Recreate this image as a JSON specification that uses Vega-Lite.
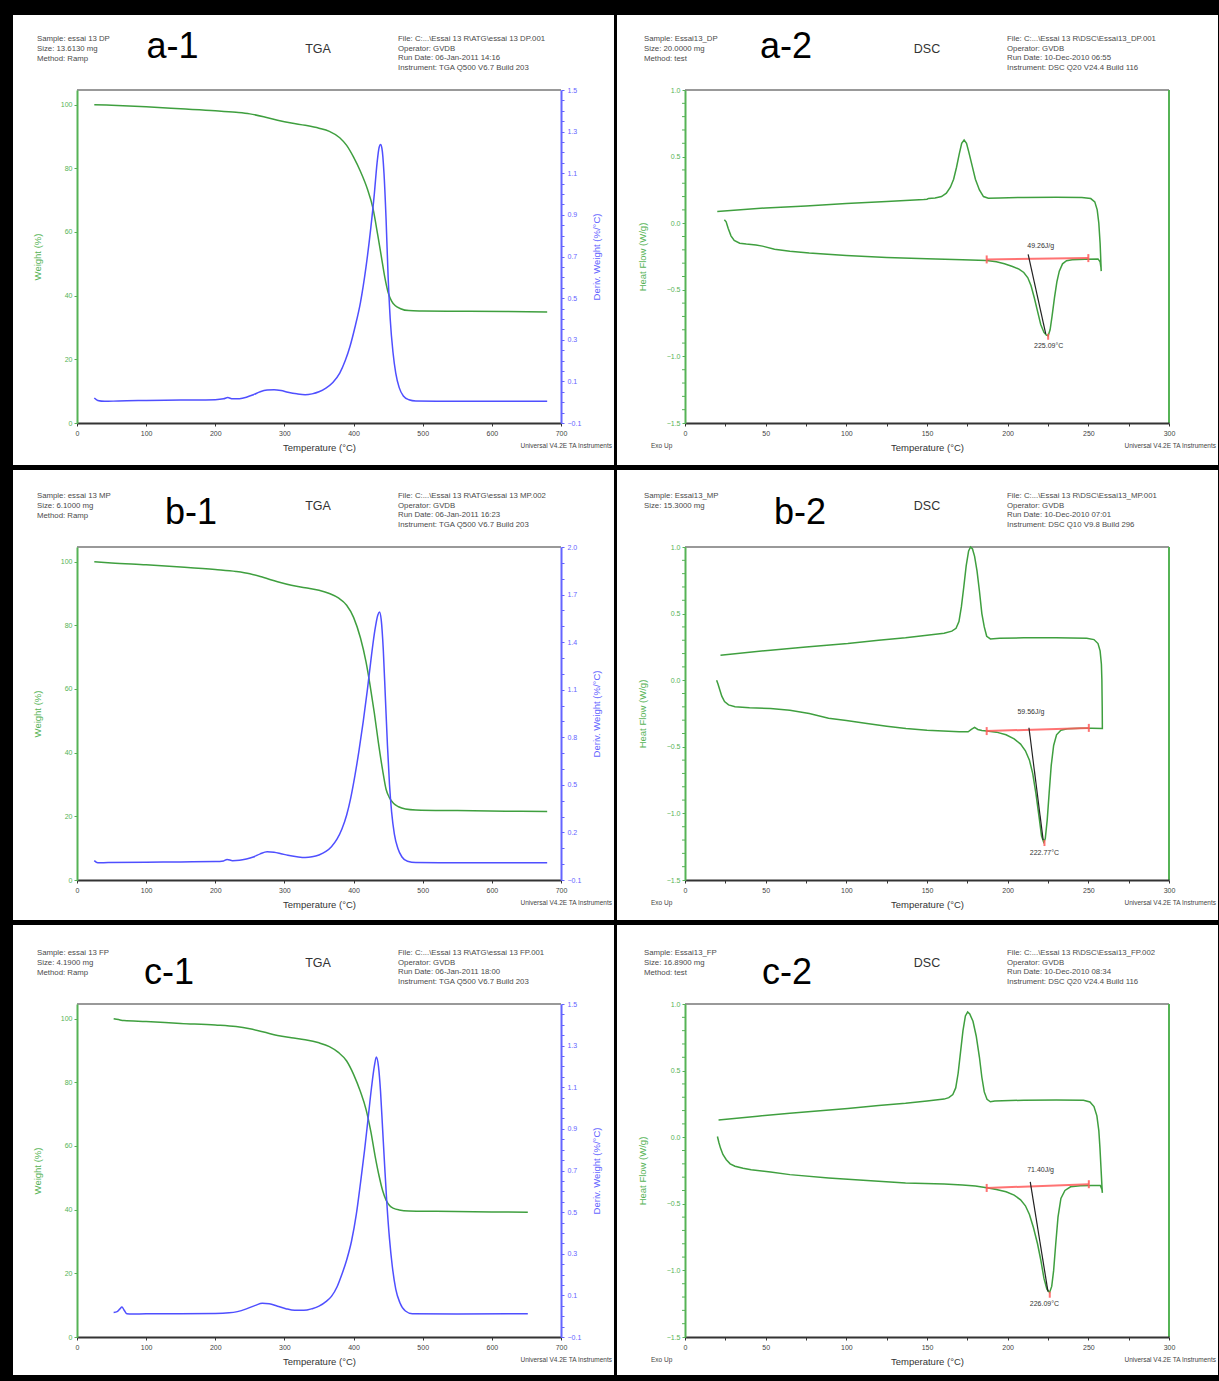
{
  "$schema": "https://vega.github.io/schema/vega-lite/v6.json",
  "background": "black",
  "padding": {"left": 13, "top": 14, "right": 2, "bottom": 9},
  "columns": 2,
  "spacing": {"row": 4, "column": 2},
  "datasets": {
    "wa": [{"t":25,"w":100},{"t":50,"w":99.8},{"t":100,"w":99.3},{"t":150,"w":98.7},{"t":200,"w":98.1},{"t":230,"w":97.6},{"t":250,"w":97.1},{"t":270,"w":96.2},{"t":290,"w":95.1},{"t":310,"w":94.2},{"t":330,"w":93.5},{"t":350,"w":92.6},{"t":365,"w":91.6},{"t":380,"w":89.6},{"t":390,"w":87.2},{"t":400,"w":83.5},{"t":410,"w":79},{"t":420,"w":73.5},{"t":428,"w":67.5},{"t":435,"w":59},{"t":440,"w":52.5},{"t":445,"w":46},{"t":450,"w":41},{"t":455,"w":38.3},{"t":460,"w":36.9},{"t":468,"w":35.9},{"t":480,"w":35.3},{"t":500,"w":35.2},{"t":550,"w":35.1},{"t":620,"w":35},{"t":680,"w":34.9}],
    "da": [{"t":25,"d":0.02},{"t":30,"d":0.008},{"t":40,"d":0.004},{"t":60,"d":0.006},{"t":100,"d":0.008},{"t":150,"d":0.01},{"t":200,"d":0.012},{"t":212,"d":0.016},{"t":218,"d":0.022},{"t":225,"d":0.016},{"t":235,"d":0.017},{"t":245,"d":0.024},{"t":255,"d":0.036},{"t":265,"d":0.05},{"t":275,"d":0.058},{"t":285,"d":0.06},{"t":295,"d":0.056},{"t":305,"d":0.048},{"t":318,"d":0.04},{"t":330,"d":0.036},{"t":340,"d":0.04},{"t":350,"d":0.05},{"t":360,"d":0.068},{"t":370,"d":0.095},{"t":380,"d":0.14},{"t":388,"d":0.2},{"t":395,"d":0.27},{"t":402,"d":0.36},{"t":410,"d":0.48},{"t":418,"d":0.65},{"t":425,"d":0.84},{"t":430,"d":1.0},{"t":434,"d":1.15},{"t":437,"d":1.225},{"t":439,"d":1.238},{"t":441,"d":1.22},{"t":444,"d":1.1},{"t":447,"d":0.88},{"t":450,"d":0.6},{"t":453,"d":0.4},{"t":457,"d":0.24},{"t":461,"d":0.14},{"t":466,"d":0.07},{"t":472,"d":0.03},{"t":480,"d":0.012},{"t":490,"d":0.006},{"t":550,"d":0.004},{"t":620,"d":0.004},{"t":680,"d":0.004}],
    "wb": [{"t":25,"w":100},{"t":50,"w":99.6},{"t":100,"w":99},{"t":150,"w":98.3},{"t":200,"w":97.5},{"t":230,"w":96.9},{"t":250,"w":96.2},{"t":270,"w":95},{"t":290,"w":93.7},{"t":310,"w":92.6},{"t":330,"w":91.8},{"t":350,"w":91},{"t":365,"w":90},{"t":378,"w":88.6},{"t":390,"w":86.3},{"t":400,"w":82.5},{"t":410,"w":76},{"t":418,"w":68.5},{"t":424,"w":61},{"t":430,"w":52.5},{"t":436,"w":43},{"t":442,"w":34.5},{"t":447,"w":28.5},{"t":452,"w":25.8},{"t":458,"w":24},{"t":465,"w":23},{"t":475,"w":22.3},{"t":490,"w":22},{"t":550,"w":21.8},{"t":620,"w":21.6},{"t":680,"w":21.5}],
    "db": [{"t":25,"d":0.022},{"t":30,"d":0.008},{"t":45,"d":0.01},{"t":100,"d":0.012},{"t":150,"d":0.014},{"t":200,"d":0.016},{"t":212,"d":0.02},{"t":217,"d":0.03},{"t":225,"d":0.022},{"t":235,"d":0.024},{"t":245,"d":0.032},{"t":255,"d":0.045},{"t":265,"d":0.065},{"t":275,"d":0.078},{"t":285,"d":0.075},{"t":295,"d":0.066},{"t":305,"d":0.056},{"t":318,"d":0.047},{"t":330,"d":0.042},{"t":340,"d":0.046},{"t":350,"d":0.058},{"t":360,"d":0.08},{"t":368,"d":0.11},{"t":376,"d":0.157},{"t":383,"d":0.22},{"t":390,"d":0.31},{"t":396,"d":0.42},{"t":402,"d":0.56},{"t":408,"d":0.72},{"t":414,"d":0.9},{"t":420,"d":1.1},{"t":426,"d":1.32},{"t":431,"d":1.48},{"t":435,"d":1.57},{"t":437.5,"d":1.59},{"t":440,"d":1.54},{"t":443,"d":1.35},{"t":446,"d":1.05},{"t":449,"d":0.75},{"t":452,"d":0.5},{"t":455,"d":0.33},{"t":459,"d":0.19},{"t":464,"d":0.1},{"t":470,"d":0.045},{"t":478,"d":0.018},{"t":490,"d":0.01},{"t":550,"d":0.009},{"t":620,"d":0.009},{"t":680,"d":0.008}],
    "wc": [{"t":53,"w":100},{"t":60,"w":99.7},{"t":68,"w":99.4},{"t":100,"w":99.1},{"t":150,"w":98.5},{"t":200,"w":98},{"t":230,"w":97.5},{"t":250,"w":96.8},{"t":270,"w":95.8},{"t":290,"w":94.7},{"t":310,"w":94},{"t":330,"w":93.4},{"t":350,"w":92.4},{"t":365,"w":91.2},{"t":378,"w":89.4},{"t":390,"w":86.7},{"t":400,"w":82.5},{"t":410,"w":77},{"t":418,"w":71.5},{"t":425,"w":64.5},{"t":431,"w":57},{"t":437,"w":50.5},{"t":442,"w":46},{"t":447,"w":43},{"t":452,"w":41.3},{"t":458,"w":40.4},{"t":466,"w":39.9},{"t":480,"w":39.6},{"t":520,"w":39.5},{"t":600,"w":39.3},{"t":652,"w":39.2}],
    "dc": [{"t":53,"d":0.018},{"t":58,"d":0.022},{"t":62,"d":0.035},{"t":65,"d":0.044},{"t":68,"d":0.03},{"t":72,"d":0.012},{"t":80,"d":0.01},{"t":100,"d":0.012},{"t":150,"d":0.012},{"t":200,"d":0.013},{"t":220,"d":0.016},{"t":232,"d":0.022},{"t":245,"d":0.035},{"t":258,"d":0.052},{"t":268,"d":0.062},{"t":278,"d":0.06},{"t":290,"d":0.048},{"t":302,"d":0.036},{"t":315,"d":0.028},{"t":328,"d":0.028},{"t":340,"d":0.036},{"t":350,"d":0.048},{"t":360,"d":0.07},{"t":368,"d":0.095},{"t":376,"d":0.14},{"t":383,"d":0.2},{"t":390,"d":0.27},{"t":397,"d":0.36},{"t":404,"d":0.49},{"t":410,"d":0.64},{"t":416,"d":0.8},{"t":421,"d":0.95},{"t":426,"d":1.1},{"t":430,"d":1.2},{"t":433,"d":1.245},{"t":436,"d":1.2},{"t":439,"d":1.08},{"t":442,"d":0.9},{"t":445,"d":0.72},{"t":448,"d":0.55},{"t":452,"d":0.37},{"t":456,"d":0.24},{"t":461,"d":0.13},{"t":467,"d":0.065},{"t":475,"d":0.025},{"t":485,"d":0.012},{"t":550,"d":0.01},{"t":652,"d":0.012}],
    "sa": [{"i":1,"t":24.4,"h":0.025},{"i":2,"t":25.5,"h":0.01},{"i":3,"t":26.8,"h":-0.04},{"i":4,"t":28.5,"h":-0.095},{"i":5,"t":30.5,"h":-0.13},{"i":6,"t":33.9,"h":-0.15},{"i":7,"t":38,"h":-0.157},{"i":8,"t":44,"h":-0.163},{"i":9,"t":48,"h":-0.172},{"i":10,"t":55.5,"h":-0.195},{"i":11,"t":65,"h":-0.21},{"i":12,"t":77,"h":-0.224},{"i":13,"t":100,"h":-0.243},{"i":14,"t":125,"h":-0.257},{"i":15,"t":150,"h":-0.267},{"i":16,"t":172,"h":-0.274},{"i":17,"t":187,"h":-0.28},{"i":18,"t":193,"h":-0.29},{"i":19,"t":198,"h":-0.305},{"i":20,"t":203,"h":-0.325},{"i":21,"t":207,"h":-0.345},{"i":22,"t":210,"h":-0.37},{"i":23,"t":212.5,"h":-0.41},{"i":24,"t":214.5,"h":-0.47},{"i":25,"t":216.5,"h":-0.56},{"i":26,"t":218.5,"h":-0.66},{"i":27,"t":220.5,"h":-0.76},{"i":28,"t":222.5,"h":-0.82},{"i":29,"t":224,"h":-0.84},{"i":30,"t":225.1,"h":-0.845},{"i":31,"t":226.3,"h":-0.8},{"i":32,"t":227.5,"h":-0.7},{"i":33,"t":229,"h":-0.56},{"i":34,"t":230.5,"h":-0.44},{"i":35,"t":232,"h":-0.36},{"i":36,"t":234,"h":-0.305},{"i":37,"t":236.5,"h":-0.282},{"i":38,"t":240,"h":-0.274},{"i":39,"t":248,"h":-0.27},{"i":40,"t":256,"h":-0.268},{"i":41,"t":257.3,"h":-0.29},{"i":42,"t":257.8,"h":-0.33},{"i":43,"t":258,"h":-0.36},{"i":44,"t":257.8,"h":-0.3},{"i":45,"t":257.3,"h":-0.15},{"i":46,"t":256.5,"h":0},{"i":47,"t":255.5,"h":0.1},{"i":48,"t":254,"h":0.16},{"i":49,"t":251.5,"h":0.185},{"i":50,"t":246,"h":0.193},{"i":51,"t":230,"h":0.195},{"i":52,"t":210,"h":0.193},{"i":53,"t":195,"h":0.19},{"i":54,"t":188,"h":0.187},{"i":55,"t":185,"h":0.2},{"i":56,"t":182.5,"h":0.25},{"i":57,"t":180,"h":0.33},{"i":58,"t":178,"h":0.43},{"i":59,"t":176,"h":0.53},{"i":60,"t":174.5,"h":0.6},{"i":61,"t":173,"h":0.625},{"i":62,"t":171.5,"h":0.6},{"i":63,"t":170,"h":0.52},{"i":64,"t":168.3,"h":0.42},{"i":65,"t":166.5,"h":0.33},{"i":66,"t":164.5,"h":0.27},{"i":67,"t":162,"h":0.225},{"i":68,"t":159,"h":0.2},{"i":69,"t":155,"h":0.19},{"i":70,"t":151,"h":0.186},{"i":71,"t":150,"h":0.18},{"i":72,"t":148,"h":0.178},{"i":73,"t":125,"h":0.163},{"i":74,"t":100,"h":0.148},{"i":75,"t":75,"h":0.13},{"i":76,"t":50,"h":0.115},{"i":77,"t":20,"h":0.088}],
    "sb": [{"i":1,"t":19.6,"h":0},{"i":2,"t":20.5,"h":-0.03},{"i":3,"t":21.5,"h":-0.07},{"i":4,"t":22.8,"h":-0.12},{"i":5,"t":24.5,"h":-0.16},{"i":6,"t":27,"h":-0.185},{"i":7,"t":31,"h":-0.2},{"i":8,"t":40,"h":-0.207},{"i":9,"t":53,"h":-0.213},{"i":10,"t":65,"h":-0.225},{"i":11,"t":77,"h":-0.25},{"i":12,"t":89,"h":-0.285},{"i":13,"t":100,"h":-0.303},{"i":14,"t":112.8,"h":-0.325},{"i":15,"t":125,"h":-0.345},{"i":16,"t":137,"h":-0.362},{"i":17,"t":150,"h":-0.375},{"i":18,"t":160,"h":-0.382},{"i":19,"t":170,"h":-0.387},{"i":20,"t":175.5,"h":-0.387},{"i":21,"t":177.5,"h":-0.37},{"i":22,"t":179.5,"h":-0.355},{"i":23,"t":181.5,"h":-0.37},{"i":24,"t":184,"h":-0.378},{"i":25,"t":187,"h":-0.382},{"i":26,"t":193,"h":-0.39},{"i":27,"t":199,"h":-0.41},{"i":28,"t":204,"h":-0.44},{"i":29,"t":208,"h":-0.48},{"i":30,"t":211,"h":-0.53},{"i":31,"t":213.5,"h":-0.6},{"i":32,"t":215.5,"h":-0.7},{"i":33,"t":217.5,"h":-0.85},{"i":34,"t":219.5,"h":-1.03},{"i":35,"t":221,"h":-1.17},{"i":36,"t":222.3,"h":-1.215},{"i":37,"t":223.3,"h":-1.19},{"i":38,"t":224.5,"h":-1.05},{"i":39,"t":225.7,"h":-0.85},{"i":40,"t":227,"h":-0.64},{"i":41,"t":228.5,"h":-0.49},{"i":42,"t":230.3,"h":-0.41},{"i":43,"t":233,"h":-0.375},{"i":44,"t":237,"h":-0.365},{"i":45,"t":245,"h":-0.36},{"i":46,"t":252,"h":-0.36},{"i":47,"t":258.7,"h":-0.362},{"i":48,"t":258.6,"h":-0.2},{"i":49,"t":258.4,"h":0},{"i":50,"t":258.1,"h":0.12},{"i":51,"t":257.3,"h":0.22},{"i":52,"t":256,"h":0.275},{"i":53,"t":253.5,"h":0.305},{"i":54,"t":249,"h":0.315},{"i":55,"t":230,"h":0.318},{"i":56,"t":210,"h":0.318},{"i":57,"t":195,"h":0.315},{"i":58,"t":189.3,"h":0.31},{"i":59,"t":187,"h":0.33},{"i":60,"t":185.5,"h":0.4},{"i":61,"t":184,"h":0.5},{"i":62,"t":182.5,"h":0.67},{"i":63,"t":181,"h":0.82},{"i":64,"t":179.5,"h":0.93},{"i":65,"t":178.2,"h":0.985},{"i":66,"t":177,"h":1.0},{"i":67,"t":175.8,"h":0.97},{"i":68,"t":174.3,"h":0.86},{"i":69,"t":172.8,"h":0.7},{"i":70,"t":171.3,"h":0.55},{"i":71,"t":169.8,"h":0.44},{"i":72,"t":168,"h":0.39},{"i":73,"t":165.4,"h":0.368},{"i":74,"t":160.6,"h":0.352},{"i":75,"t":150,"h":0.338},{"i":76,"t":136.7,"h":0.318},{"i":77,"t":120,"h":0.3},{"i":78,"t":100.9,"h":0.275},{"i":79,"t":75,"h":0.25},{"i":80,"t":53,"h":0.225},{"i":81,"t":22,"h":0.188}],
    "sc": [{"i":1,"t":20.1,"h":0.005},{"i":2,"t":21,"h":-0.04},{"i":3,"t":22,"h":-0.082},{"i":4,"t":23.5,"h":-0.13},{"i":5,"t":25.6,"h":-0.169},{"i":6,"t":28,"h":-0.2},{"i":7,"t":31,"h":-0.218},{"i":8,"t":36,"h":-0.233},{"i":9,"t":41,"h":-0.244},{"i":10,"t":53,"h":-0.262},{"i":11,"t":65,"h":-0.281},{"i":12,"t":89,"h":-0.306},{"i":13,"t":112.8,"h":-0.326},{"i":14,"t":136.7,"h":-0.343},{"i":15,"t":160.6,"h":-0.351},{"i":16,"t":172,"h":-0.358},{"i":17,"t":180,"h":-0.366},{"i":18,"t":187,"h":-0.38},{"i":19,"t":193,"h":-0.392},{"i":20,"t":199,"h":-0.41},{"i":21,"t":204,"h":-0.435},{"i":22,"t":208,"h":-0.47},{"i":23,"t":211,"h":-0.515},{"i":24,"t":213.5,"h":-0.58},{"i":25,"t":216,"h":-0.68},{"i":26,"t":218.5,"h":-0.8},{"i":27,"t":220.5,"h":-0.92},{"i":28,"t":222.5,"h":-1.06},{"i":29,"t":224.3,"h":-1.14},{"i":30,"t":226,"h":-1.165},{"i":31,"t":227.3,"h":-1.12},{"i":32,"t":228.5,"h":-1.0},{"i":33,"t":229.8,"h":-0.8},{"i":34,"t":231.2,"h":-0.6},{"i":35,"t":233,"h":-0.46},{"i":36,"t":235.5,"h":-0.4},{"i":37,"t":239,"h":-0.372},{"i":38,"t":245,"h":-0.364},{"i":39,"t":252,"h":-0.362},{"i":40,"t":257.4,"h":-0.363},{"i":41,"t":258.4,"h":-0.39},{"i":42,"t":258.7,"h":-0.418},{"i":43,"t":258.4,"h":-0.36},{"i":44,"t":257.8,"h":-0.22},{"i":45,"t":257.2,"h":-0.08},{"i":46,"t":256.5,"h":0.05},{"i":47,"t":255.3,"h":0.16},{"i":48,"t":253.5,"h":0.23},{"i":49,"t":251,"h":0.265},{"i":50,"t":247,"h":0.278},{"i":51,"t":230,"h":0.28},{"i":52,"t":210,"h":0.278},{"i":53,"t":192,"h":0.272},{"i":54,"t":189.3,"h":0.266},{"i":55,"t":187.2,"h":0.285},{"i":56,"t":185.5,"h":0.34},{"i":57,"t":184,"h":0.45},{"i":58,"t":182.5,"h":0.6},{"i":59,"t":180.5,"h":0.76},{"i":60,"t":178.5,"h":0.87},{"i":61,"t":176.5,"h":0.925},{"i":62,"t":175.2,"h":0.94},{"i":63,"t":173.8,"h":0.91},{"i":64,"t":172.3,"h":0.8},{"i":65,"t":170.8,"h":0.64},{"i":66,"t":169.3,"h":0.48},{"i":67,"t":167.8,"h":0.37},{"i":68,"t":166,"h":0.32},{"i":69,"t":163.5,"h":0.297},{"i":70,"t":160.6,"h":0.286},{"i":71,"t":150,"h":0.272},{"i":72,"t":136.7,"h":0.254},{"i":73,"t":120,"h":0.238},{"i":74,"t":100.9,"h":0.216},{"i":75,"t":80,"h":0.195},{"i":76,"t":65,"h":0.179},{"i":77,"t":45,"h":0.158},{"i":78,"t":20.8,"h":0.129}],
    "ra": [{"k":"red","x":187,"y":-0.272,"x2":250,"y2":-0.262},{"k":"red","x":187,"y":-0.242,"x2":187,"y2":-0.302},{"k":"red","x":250,"y":-0.232,"x2":250,"y2":-0.292},{"k":"red","x":225.1,"y":-0.83,"x2":225.1,"y2":-0.875},{"k":"black","x":212.7,"y":-0.234,"x2":223.6,"y2":-0.83}],
    "rb": [{"k":"red","x":187,"y":-0.382,"x2":250.3,"y2":-0.358},{"k":"red","x":187,"y":-0.352,"x2":187,"y2":-0.412},{"k":"red","x":250.3,"y":-0.328,"x2":250.3,"y2":-0.388},{"k":"red","x":222.8,"y":-1.2,"x2":222.8,"y2":-1.245},{"k":"black","x":213.2,"y":-0.357,"x2":222,"y2":-1.2}],
    "rc": [{"k":"red","x":187,"y":-0.381,"x2":250.3,"y2":-0.353},{"k":"red","x":187,"y":-0.351,"x2":187,"y2":-0.411},{"k":"red","x":250.3,"y":-0.323,"x2":250.3,"y2":-0.383},{"k":"red","x":226.1,"y":-1.16,"x2":226.1,"y2":-1.205},{"k":"black","x":214,"y":-0.336,"x2":225,"y2":-1.16}],
    "la": [{"x":220.5,"y":-0.171,"label":"49.26J/g"},{"x":225.4,"y":-0.925,"label":"225.09°C"}],
    "lb": [{"x":214.4,"y":-0.24,"label":"59.56J/g"},{"x":222.8,"y":-1.3,"label":"222.77°C"}],
    "lc": [{"x":220.4,"y":-0.244,"label":"71.40J/g"},{"x":222.8,"y":-1.255,"label":"226.09°C"}],
    "hminor": [{"v":-1.4},{"v":-1.3},{"v":-1.2},{"v":-1.1},{"v":-0.9},{"v":-0.8},{"v":-0.7},{"v":-0.6},{"v":-0.4},{"v":-0.3},{"v":-0.2},{"v":-0.1},{"v":0.1},{"v":0.2},{"v":0.3},{"v":0.4},{"v":0.6},{"v":0.7},{"v":0.8},{"v":0.9}]
  },
  "concat": [
    {
      "width": 484, "height": 333,
      "data": {"values": [{}]},
      "layer": [
        {
          "layer": [
            {"mark": {"type": "rect", "fill": "white"}, "encoding": {"x": {"datum": -92.56}, "x2": {"datum": 776.65}, "y": {"datum": 128.16}, "y2": {"datum": -13.19}}},
            {"mark": {"type": "rule", "color": "#777777", "strokeWidth": 1.5}, "encoding": {"x": {"datum": 0}, "x2": {"datum": 700}, "y": {"datum": 104.6}}},
            {"mark": {"type": "text", "text": ["Sample: essai 13 DP", "Size: 13.6130 mg", "Method: Ramp"], "align": "left", "baseline": "top", "fontSize": 7.8, "lineHeight": 9.7, "color": "#4a4a4a"}, "encoding": {"x": {"datum": -57.85}, "y": {"datum": 121.72}}},
            {"mark": {"type": "text", "text": "a-1", "align": "center", "baseline": "middle", "fontSize": 36, "color": "black"}, "encoding": {"x": {"datum": 138.1}, "y": {"datum": 118.11}}},
            {"mark": {"type": "text", "text": "TGA", "align": "center", "baseline": "middle", "fontSize": 12.5, "color": "#333333"}, "encoding": {"x": {"datum": 348.55}, "y": {"datum": 117.48}}},
            {"mark": {"type": "text", "text": ["File: C:...\\Essai 13 R\\ATG\\essai 13 DP.001", "Operator: GVDB", "Run Date: 06-Jan-2011 14:16", "Instrument: TGA Q500 V6.7 Build 203"], "align": "left", "baseline": "top", "fontSize": 7.8, "lineHeight": 9.7, "color": "#4a4a4a"}, "encoding": {"x": {"datum": 464.26}, "y": {"datum": 121.88}}},
            {"mark": {"type": "text", "text": "Universal V4.2E TA Instruments", "align": "right", "baseline": "middle", "fontSize": 6.5, "color": "#444444"}, "encoding": {"x": {"datum": 773.8}, "y": {"datum": -7.22}}},
            {"data": {"name": "wa"}, "mark": {"type": "line", "color": "#3f9f3f", "strokeWidth": 1.5, "interpolate": "monotone"},
             "encoding": {
               "x": {"field": "t", "type": "quantitative", "scale": {"domain": [0, 700], "nice": false, "zero": false}, "axis": {"zindex": 1, "labelOverlap": false, "title": "Temperature (°C)", "values": [0,25,50,75,100,125,150,175,200,225,250,275,300,325,350,375,400,425,450,475,500,525,550,575,600,625,650,675,700], "labelExpr": "datum.value % 100 === 0 ? datum.label : ''", "format": "d", "domainColor": "#333333", "domainWidth": 2, "tickColor": "#333333", "labelColor": "#444444", "titleColor": "#333333", "labelPadding": 3, "titlePadding": 6}},
               "y": {"field": "w", "type": "quantitative", "scale": {"domain": [0, 104.6], "nice": false, "zero": false}, "axis": {"zindex": 1, "labelOverlap": false, "title": "Weight (%)", "orient": "left", "values": [0,5,10,15,20,25,30,35,40,45,50,55,60,65,70,75,80,85,90,95,100], "labelExpr": "datum.value % 20 === 0 ? datum.label : ''", "format": "d", "domainColor": "#56b356", "domainWidth": 2, "tickColor": "#56b356", "labelColor": "#56b356", "titleColor": "#56b356", "titlePadding": 18}}
             }}
          ]
        },
        {"data": {"name": "da"}, "mark": {"type": "line", "color": "#4f4fff", "strokeWidth": 1.5, "interpolate": "monotone"},
         "encoding": {
           "x": {"field": "t", "type": "quantitative"},
           "y": {"field": "d", "type": "quantitative", "scale": {"domain": [-0.1, 1.5], "nice": false, "zero": false}, "axis": {"zindex": 1, "labelOverlap": false, "title": "Deriv. Weight (%/°C)", "orient": "right", "titleAngle": 270, "values": [-0.1,-0.05,0,0.05,0.1,0.15,0.2,0.25,0.3,0.35,0.4,0.45,0.5,0.55,0.6,0.65,0.7,0.75,0.8,0.85,0.9,0.95,1,1.05,1.1,1.15,1.2,1.25,1.3,1.35,1.4,1.45,1.5], "labelExpr": "abs((datum.value + 0.1) * 5 - round((datum.value + 0.1) * 5)) < 0.001 ? format(datum.value, '.1f') : ''", "domainColor": "#6464ff", "domainWidth": 2, "tickColor": "#6464ff", "labelColor": "#6464ff", "titleColor": "#6464ff", "labelPadding": 3, "titlePadding": 21}}
         }}
      ],
      "resolve": {"scale": {"y": "independent"}}
    },
    {
      "width": 484, "height": 333,
      "data": {"values": [{}]},
      "layer": [
        {"mark": {"type": "rect", "fill": "white"}, "encoding": {"x": {"datum": -42.15}, "x2": {"datum": 330.37}, "y": {"datum": 1.5631}, "y2": {"datum": -1.8153}}},
        {"mark": {"type": "rule", "color": "#777777", "strokeWidth": 1.5}, "encoding": {"x": {"datum": 0}, "x2": {"datum": 300}, "y": {"datum": 1.0}}},
        {"mark": {"type": "rule", "color": "#56b356", "strokeWidth": 2}, "encoding": {"x": {"datum": 300}, "y": {"datum": -1.5}, "y2": {"datum": 1.0}}},
        {"data": {"name": "hminor"}, "mark": {"type": "tick", "orient": "horizontal", "size": 3, "thickness": 1, "color": "#56b356", "opacity": 1}, "encoding": {"y": {"field": "v", "type": "quantitative"}, "x": {"datum": -0.93}}},
        {"mark": {"type": "text", "text": ["Sample: Essai13_DP", "Size: 20.0000 mg", "Method: test"], "align": "left", "baseline": "top", "fontSize": 7.8, "lineHeight": 9.7, "color": "#4a4a4a"}, "encoding": {"x": {"datum": -25.41}, "y": {"datum": 1.4092}}},
        {"mark": {"type": "text", "text": "a-2", "align": "center", "baseline": "middle", "fontSize": 36, "color": "black"}, "encoding": {"x": {"datum": 62.6}, "y": {"datum": 1.3228}}},
        {"mark": {"type": "text", "text": "DSC", "align": "center", "baseline": "middle", "fontSize": 12.5, "color": "#333333"}, "encoding": {"x": {"datum": 150}, "y": {"datum": 1.3078}}},
        {"mark": {"type": "text", "text": ["File: C:...\\Essai 13 R\\DSC\\Essai13_DP.001", "Operator: GVDB", "Run Date: 10-Dec-2010 06:55", "Instrument: DSC Q20 V24.4 Build 116"], "align": "left", "baseline": "top", "fontSize": 7.8, "lineHeight": 9.7, "color": "#4a4a4a"}, "encoding": {"x": {"datum": 199.59}, "y": {"datum": 1.4129}}},
        {"mark": {"type": "text", "text": "Exo Up", "align": "left", "baseline": "middle", "fontSize": 6.5, "color": "#444444"}, "encoding": {"x": {"datum": -21.07}, "y": {"datum": -1.6727}}},
        {"mark": {"type": "text", "text": "Universal V4.2E TA Instruments", "align": "right", "baseline": "middle", "fontSize": 6.5, "color": "#444444"}, "encoding": {"x": {"datum": 329.13}, "y": {"datum": -1.6727}}},
        {"data": {"name": "sa"}, "mark": {"type": "line", "color": "#3f9f3f", "strokeWidth": 1.5},
         "encoding": {
           "order": {"field": "i", "type": "quantitative"},
           "x": {"field": "t", "type": "quantitative", "scale": {"domain": [0, 300], "nice": false, "zero": false}, "axis": {"zindex": 1, "labelOverlap": false, "title": "Temperature (°C)", "values": [0,12.5,25,37.5,50,62.5,75,87.5,100,112.5,125,137.5,150,162.5,175,187.5,200,212.5,225,237.5,250,262.5,275,287.5,300], "labelExpr": "datum.value % 50 === 0 ? format(datum.value, 'd') : ''", "domainColor": "#333333", "domainWidth": 2, "tickColor": "#333333", "labelColor": "#444444", "titleColor": "#333333", "labelPadding": 3, "titlePadding": 6}},
           "y": {"field": "h", "type": "quantitative", "scale": {"domain": [-1.5, 1.0], "nice": false, "zero": false}, "axis": {"zindex": 1, "labelOverlap": false, "title": "Heat Flow (W/g)", "orient": "left", "values": [-1.5,-1,-0.5,0,0.5,1], "format": ".1f", "domainColor": "#56b356", "domainWidth": 2, "tickColor": "#56b356", "labelColor": "#56b356", "titleColor": "#56b356", "titlePadding": 19}}
         }},
        {"data": {"name": "ra"}, "transform": [{"filter": "datum.k === 'red'"}], "mark": {"type": "rule", "color": "#ff5a5a", "strokeWidth": 2, "opacity": 0.85}, "encoding": {"x": {"field": "x", "type": "quantitative"}, "y": {"field": "y", "type": "quantitative"}, "x2": {"field": "x2"}, "y2": {"field": "y2"}}},
        {"data": {"name": "ra"}, "transform": [{"filter": "datum.k === 'black'"}], "mark": {"type": "rule", "color": "#222222", "strokeWidth": 1.2}, "encoding": {"x": {"field": "x", "type": "quantitative"}, "y": {"field": "y", "type": "quantitative"}, "x2": {"field": "x2"}, "y2": {"field": "y2"}}},
        {"data": {"name": "la"}, "mark": {"type": "text", "fontSize": 7, "color": "#333333", "align": "center", "baseline": "middle"}, "encoding": {"x": {"field": "x", "type": "quantitative"}, "y": {"field": "y", "type": "quantitative"}, "text": {"field": "label"}}}
      ]
    },
    {
      "width": 484, "height": 333,
      "data": {"values": [{}]},
      "layer": [
        {
          "layer": [
            {"mark": {"type": "rect", "fill": "white"}, "encoding": {"x": {"datum": -92.56}, "x2": {"datum": 776.65}, "y": {"datum": 128.79}, "y2": {"datum": -12.56}}},
            {"mark": {"type": "rule", "color": "#777777", "strokeWidth": 1.5}, "encoding": {"x": {"datum": 0}, "x2": {"datum": 700}, "y": {"datum": 104.6}}},
            {"mark": {"type": "text", "text": ["Sample: essai 13 MP", "Size: 6.1000 mg", "Method: Ramp"], "align": "left", "baseline": "top", "fontSize": 7.8, "lineHeight": 9.7, "color": "#4a4a4a"}, "encoding": {"x": {"datum": -57.85}, "y": {"datum": 121.72}}},
            {"mark": {"type": "text", "text": "b-1", "align": "center", "baseline": "middle", "fontSize": 36, "color": "black"}, "encoding": {"x": {"datum": 164.9}, "y": {"datum": 115.28}}},
            {"mark": {"type": "text", "text": "TGA", "align": "center", "baseline": "middle", "fontSize": 12.5, "color": "#333333"}, "encoding": {"x": {"datum": 348.55}, "y": {"datum": 117.48}}},
            {"mark": {"type": "text", "text": ["File: C:...\\Essai 13 R\\ATG\\essai 13 MP.002", "Operator: GVDB", "Run Date: 06-Jan-2011 16:23", "Instrument: TGA Q500 V6.7 Build 203"], "align": "left", "baseline": "top", "fontSize": 7.8, "lineHeight": 9.7, "color": "#4a4a4a"}, "encoding": {"x": {"datum": 464.26}, "y": {"datum": 121.88}}},
            {"mark": {"type": "text", "text": "Universal V4.2E TA Instruments", "align": "right", "baseline": "middle", "fontSize": 6.5, "color": "#444444"}, "encoding": {"x": {"datum": 773.8}, "y": {"datum": -7.22}}},
            {"data": {"name": "wb"}, "mark": {"type": "line", "color": "#3f9f3f", "strokeWidth": 1.5, "interpolate": "monotone"},
             "encoding": {
               "x": {"field": "t", "type": "quantitative", "scale": {"domain": [0, 700], "nice": false, "zero": false}, "axis": {"zindex": 1, "labelOverlap": false, "title": "Temperature (°C)", "values": [0,25,50,75,100,125,150,175,200,225,250,275,300,325,350,375,400,425,450,475,500,525,550,575,600,625,650,675,700], "labelExpr": "datum.value % 100 === 0 ? datum.label : ''", "format": "d", "domainColor": "#333333", "domainWidth": 2, "tickColor": "#333333", "labelColor": "#444444", "titleColor": "#333333", "labelPadding": 3, "titlePadding": 6}},
               "y": {"field": "w", "type": "quantitative", "scale": {"domain": [0, 104.6], "nice": false, "zero": false}, "axis": {"zindex": 1, "labelOverlap": false, "title": "Weight (%)", "orient": "left", "values": [0,5,10,15,20,25,30,35,40,45,50,55,60,65,70,75,80,85,90,95,100], "labelExpr": "datum.value % 20 === 0 ? datum.label : ''", "format": "d", "domainColor": "#56b356", "domainWidth": 2, "tickColor": "#56b356", "labelColor": "#56b356", "titleColor": "#56b356", "titlePadding": 18}}
             }}
          ]
        },
        {"data": {"name": "db"}, "mark": {"type": "line", "color": "#4f4fff", "strokeWidth": 1.5, "interpolate": "monotone"},
         "encoding": {
           "x": {"field": "t", "type": "quantitative"},
           "y": {"field": "d", "type": "quantitative", "scale": {"domain": [-0.1, 2.0], "nice": false, "zero": false}, "axis": {"zindex": 1, "labelOverlap": false, "title": "Deriv. Weight (%/°C)", "orient": "right", "titleAngle": 270, "values": [-0.1,0,0.1,0.2,0.3,0.4,0.5,0.6,0.7,0.8,0.9,1,1.1,1.2,1.3,1.4,1.5,1.6,1.7,1.8,1.9,2], "labelExpr": "abs((datum.value + 0.1) / 0.3 - round((datum.value + 0.1) / 0.3)) < 0.001 ? format(datum.value, '.1f') : ''", "domainColor": "#6464ff", "domainWidth": 2, "tickColor": "#6464ff", "labelColor": "#6464ff", "titleColor": "#6464ff", "labelPadding": 3, "titlePadding": 21}}
         }}
      ],
      "resolve": {"scale": {"y": "independent"}}
    },
    {
      "width": 484, "height": 333,
      "data": {"values": [{}]},
      "layer": [
        {"mark": {"type": "rect", "fill": "white"}, "encoding": {"x": {"datum": -42.15}, "x2": {"datum": 330.37}, "y": {"datum": 1.5781}, "y2": {"datum": -1.8003}}},
        {"mark": {"type": "rule", "color": "#777777", "strokeWidth": 1.5}, "encoding": {"x": {"datum": 0}, "x2": {"datum": 300}, "y": {"datum": 1.0}}},
        {"mark": {"type": "rule", "color": "#56b356", "strokeWidth": 2}, "encoding": {"x": {"datum": 300}, "y": {"datum": -1.5}, "y2": {"datum": 1.0}}},
        {"data": {"name": "hminor"}, "mark": {"type": "tick", "orient": "horizontal", "size": 3, "thickness": 1, "color": "#56b356", "opacity": 1}, "encoding": {"y": {"field": "v", "type": "quantitative"}, "x": {"datum": -0.93}}},
        {"mark": {"type": "text", "text": ["Sample: Essai13_MP", "Size: 15.3000 mg"], "align": "left", "baseline": "top", "fontSize": 7.8, "lineHeight": 9.7, "color": "#4a4a4a"}, "encoding": {"x": {"datum": -25.41}, "y": {"datum": 1.4092}}},
        {"mark": {"type": "text", "text": "b-2", "align": "center", "baseline": "middle", "fontSize": 36, "color": "black"}, "encoding": {"x": {"datum": 71.28}, "y": {"datum": 1.2553}}},
        {"mark": {"type": "text", "text": "DSC", "align": "center", "baseline": "middle", "fontSize": 12.5, "color": "#333333"}, "encoding": {"x": {"datum": 150}, "y": {"datum": 1.3078}}},
        {"mark": {"type": "text", "text": ["File: C:...\\Essai 13 R\\DSC\\Essai13_MP.001", "Operator: GVDB", "Run Date: 10-Dec-2010 07:01", "Instrument: DSC Q10 V9.8 Build 296"], "align": "left", "baseline": "top", "fontSize": 7.8, "lineHeight": 9.7, "color": "#4a4a4a"}, "encoding": {"x": {"datum": 199.59}, "y": {"datum": 1.4129}}},
        {"mark": {"type": "text", "text": "Exo Up", "align": "left", "baseline": "middle", "fontSize": 6.5, "color": "#444444"}, "encoding": {"x": {"datum": -21.07}, "y": {"datum": -1.6727}}},
        {"mark": {"type": "text", "text": "Universal V4.2E TA Instruments", "align": "right", "baseline": "middle", "fontSize": 6.5, "color": "#444444"}, "encoding": {"x": {"datum": 329.13}, "y": {"datum": -1.6727}}},
        {"data": {"name": "sb"}, "mark": {"type": "line", "color": "#3f9f3f", "strokeWidth": 1.5},
         "encoding": {
           "order": {"field": "i", "type": "quantitative"},
           "x": {"field": "t", "type": "quantitative", "scale": {"domain": [0, 300], "nice": false, "zero": false}, "axis": {"zindex": 1, "labelOverlap": false, "title": "Temperature (°C)", "values": [0,12.5,25,37.5,50,62.5,75,87.5,100,112.5,125,137.5,150,162.5,175,187.5,200,212.5,225,237.5,250,262.5,275,287.5,300], "labelExpr": "datum.value % 50 === 0 ? format(datum.value, 'd') : ''", "domainColor": "#333333", "domainWidth": 2, "tickColor": "#333333", "labelColor": "#444444", "titleColor": "#333333", "labelPadding": 3, "titlePadding": 6}},
           "y": {"field": "h", "type": "quantitative", "scale": {"domain": [-1.5, 1.0], "nice": false, "zero": false}, "axis": {"zindex": 1, "labelOverlap": false, "title": "Heat Flow (W/g)", "orient": "left", "values": [-1.5,-1,-0.5,0,0.5,1], "format": ".1f", "domainColor": "#56b356", "domainWidth": 2, "tickColor": "#56b356", "labelColor": "#56b356", "titleColor": "#56b356", "titlePadding": 19}}
         }},
        {"data": {"name": "rb"}, "transform": [{"filter": "datum.k === 'red'"}], "mark": {"type": "rule", "color": "#ff5a5a", "strokeWidth": 2, "opacity": 0.85}, "encoding": {"x": {"field": "x", "type": "quantitative"}, "y": {"field": "y", "type": "quantitative"}, "x2": {"field": "x2"}, "y2": {"field": "y2"}}},
        {"data": {"name": "rb"}, "transform": [{"filter": "datum.k === 'black'"}], "mark": {"type": "rule", "color": "#222222", "strokeWidth": 1.2}, "encoding": {"x": {"field": "x", "type": "quantitative"}, "y": {"field": "y", "type": "quantitative"}, "x2": {"field": "x2"}, "y2": {"field": "y2"}}},
        {"data": {"name": "lb"}, "mark": {"type": "text", "fontSize": 7, "color": "#333333", "align": "center", "baseline": "middle"}, "encoding": {"x": {"field": "x", "type": "quantitative"}, "y": {"field": "y", "type": "quantitative"}, "text": {"field": "label"}}}
      ]
    },
    {
      "width": 484, "height": 333,
      "data": {"values": [{}]},
      "layer": [
        {
          "layer": [
            {"mark": {"type": "rect", "fill": "white"}, "encoding": {"x": {"datum": -92.56}, "x2": {"datum": 776.65}, "y": {"datum": 129.41}, "y2": {"datum": -11.94}}},
            {"mark": {"type": "rule", "color": "#777777", "strokeWidth": 1.5}, "encoding": {"x": {"datum": 0}, "x2": {"datum": 700}, "y": {"datum": 104.6}}},
            {"mark": {"type": "text", "text": ["Sample: essai 13 FP", "Size: 4.1900 mg", "Method: Ramp"], "align": "left", "baseline": "top", "fontSize": 7.8, "lineHeight": 9.7, "color": "#4a4a4a"}, "encoding": {"x": {"datum": -57.85}, "y": {"datum": 121.72}}},
            {"mark": {"type": "text", "text": "c-1", "align": "center", "baseline": "middle", "fontSize": 36, "color": "black"}, "encoding": {"x": {"datum": 133.1}, "y": {"datum": 114.34}}},
            {"mark": {"type": "text", "text": "TGA", "align": "center", "baseline": "middle", "fontSize": 12.5, "color": "#333333"}, "encoding": {"x": {"datum": 348.55}, "y": {"datum": 117.48}}},
            {"mark": {"type": "text", "text": ["File: C:...\\Essai 13 R\\ATG\\essai 13 FP.001", "Operator: GVDB", "Run Date: 06-Jan-2011 18:00", "Instrument: TGA Q500 V6.7 Build 203"], "align": "left", "baseline": "top", "fontSize": 7.8, "lineHeight": 9.7, "color": "#4a4a4a"}, "encoding": {"x": {"datum": 464.26}, "y": {"datum": 121.88}}},
            {"mark": {"type": "text", "text": "Universal V4.2E TA Instruments", "align": "right", "baseline": "middle", "fontSize": 6.5, "color": "#444444"}, "encoding": {"x": {"datum": 773.8}, "y": {"datum": -7.22}}},
            {"data": {"name": "wc"}, "mark": {"type": "line", "color": "#3f9f3f", "strokeWidth": 1.5, "interpolate": "monotone"},
             "encoding": {
               "x": {"field": "t", "type": "quantitative", "scale": {"domain": [0, 700], "nice": false, "zero": false}, "axis": {"zindex": 1, "labelOverlap": false, "title": "Temperature (°C)", "values": [0,25,50,75,100,125,150,175,200,225,250,275,300,325,350,375,400,425,450,475,500,525,550,575,600,625,650,675,700], "labelExpr": "datum.value % 100 === 0 ? datum.label : ''", "format": "d", "domainColor": "#333333", "domainWidth": 2, "tickColor": "#333333", "labelColor": "#444444", "titleColor": "#333333", "labelPadding": 3, "titlePadding": 6}},
               "y": {"field": "w", "type": "quantitative", "scale": {"domain": [0, 104.6], "nice": false, "zero": false}, "axis": {"zindex": 1, "labelOverlap": false, "title": "Weight (%)", "orient": "left", "values": [0,5,10,15,20,25,30,35,40,45,50,55,60,65,70,75,80,85,90,95,100], "labelExpr": "datum.value % 20 === 0 ? datum.label : ''", "format": "d", "domainColor": "#56b356", "domainWidth": 2, "tickColor": "#56b356", "labelColor": "#56b356", "titleColor": "#56b356", "titlePadding": 18}}
             }}
          ]
        },
        {"data": {"name": "dc"}, "mark": {"type": "line", "color": "#4f4fff", "strokeWidth": 1.5, "interpolate": "monotone"},
         "encoding": {
           "x": {"field": "t", "type": "quantitative"},
           "y": {"field": "d", "type": "quantitative", "scale": {"domain": [-0.1, 1.5], "nice": false, "zero": false}, "axis": {"zindex": 1, "labelOverlap": false, "title": "Deriv. Weight (%/°C)", "orient": "right", "titleAngle": 270, "values": [-0.1,-0.05,0,0.05,0.1,0.15,0.2,0.25,0.3,0.35,0.4,0.45,0.5,0.55,0.6,0.65,0.7,0.75,0.8,0.85,0.9,0.95,1,1.05,1.1,1.15,1.2,1.25,1.3,1.35,1.4,1.45,1.5], "labelExpr": "abs((datum.value + 0.1) * 5 - round((datum.value + 0.1) * 5)) < 0.001 ? format(datum.value, '.1f') : ''", "domainColor": "#6464ff", "domainWidth": 2, "tickColor": "#6464ff", "labelColor": "#6464ff", "titleColor": "#6464ff", "labelPadding": 3, "titlePadding": 21}}
         }}
      ],
      "resolve": {"scale": {"y": "independent"}}
    },
    {
      "width": 484, "height": 333,
      "data": {"values": [{}]},
      "layer": [
        {"mark": {"type": "rect", "fill": "white"}, "encoding": {"x": {"datum": -42.15}, "x2": {"datum": 330.37}, "y": {"datum": 1.5931}, "y2": {"datum": -1.7853}}},
        {"mark": {"type": "rule", "color": "#777777", "strokeWidth": 1.5}, "encoding": {"x": {"datum": 0}, "x2": {"datum": 300}, "y": {"datum": 1.0}}},
        {"mark": {"type": "rule", "color": "#56b356", "strokeWidth": 2}, "encoding": {"x": {"datum": 300}, "y": {"datum": -1.5}, "y2": {"datum": 1.0}}},
        {"data": {"name": "hminor"}, "mark": {"type": "tick", "orient": "horizontal", "size": 3, "thickness": 1, "color": "#56b356", "opacity": 1}, "encoding": {"y": {"field": "v", "type": "quantitative"}, "x": {"datum": -0.93}}},
        {"mark": {"type": "text", "text": ["Sample: Essai13_FP", "Size: 16.8900 mg", "Method: test"], "align": "left", "baseline": "top", "fontSize": 7.8, "lineHeight": 9.7, "color": "#4a4a4a"}, "encoding": {"x": {"datum": -25.41}, "y": {"datum": 1.4092}}},
        {"mark": {"type": "text", "text": "c-2", "align": "center", "baseline": "middle", "fontSize": 36, "color": "black"}, "encoding": {"x": {"datum": 63.22}, "y": {"datum": 1.2327}}},
        {"mark": {"type": "text", "text": "DSC", "align": "center", "baseline": "middle", "fontSize": 12.5, "color": "#333333"}, "encoding": {"x": {"datum": 150}, "y": {"datum": 1.3078}}},
        {"mark": {"type": "text", "text": ["File: C:...\\Essai 13 R\\DSC\\Essai13_FP.002", "Operator: GVDB", "Run Date: 10-Dec-2010 08:34", "Instrument: DSC Q20 V24.4 Build 116"], "align": "left", "baseline": "top", "fontSize": 7.8, "lineHeight": 9.7, "color": "#4a4a4a"}, "encoding": {"x": {"datum": 199.59}, "y": {"datum": 1.4129}}},
        {"mark": {"type": "text", "text": "Exo Up", "align": "left", "baseline": "middle", "fontSize": 6.5, "color": "#444444"}, "encoding": {"x": {"datum": -21.07}, "y": {"datum": -1.6727}}},
        {"mark": {"type": "text", "text": "Universal V4.2E TA Instruments", "align": "right", "baseline": "middle", "fontSize": 6.5, "color": "#444444"}, "encoding": {"x": {"datum": 329.13}, "y": {"datum": -1.6727}}},
        {"data": {"name": "sc"}, "mark": {"type": "line", "color": "#3f9f3f", "strokeWidth": 1.5},
         "encoding": {
           "order": {"field": "i", "type": "quantitative"},
           "x": {"field": "t", "type": "quantitative", "scale": {"domain": [0, 300], "nice": false, "zero": false}, "axis": {"zindex": 1, "labelOverlap": false, "title": "Temperature (°C)", "values": [0,12.5,25,37.5,50,62.5,75,87.5,100,112.5,125,137.5,150,162.5,175,187.5,200,212.5,225,237.5,250,262.5,275,287.5,300], "labelExpr": "datum.value % 50 === 0 ? format(datum.value, 'd') : ''", "domainColor": "#333333", "domainWidth": 2, "tickColor": "#333333", "labelColor": "#444444", "titleColor": "#333333", "labelPadding": 3, "titlePadding": 6}},
           "y": {"field": "h", "type": "quantitative", "scale": {"domain": [-1.5, 1.0], "nice": false, "zero": false}, "axis": {"zindex": 1, "labelOverlap": false, "title": "Heat Flow (W/g)", "orient": "left", "values": [-1.5,-1,-0.5,0,0.5,1], "format": ".1f", "domainColor": "#56b356", "domainWidth": 2, "tickColor": "#56b356", "labelColor": "#56b356", "titleColor": "#56b356", "titlePadding": 19}}
         }},
        {"data": {"name": "rc"}, "transform": [{"filter": "datum.k === 'red'"}], "mark": {"type": "rule", "color": "#ff5a5a", "strokeWidth": 2, "opacity": 0.85}, "encoding": {"x": {"field": "x", "type": "quantitative"}, "y": {"field": "y", "type": "quantitative"}, "x2": {"field": "x2"}, "y2": {"field": "y2"}}},
        {"data": {"name": "rc"}, "transform": [{"filter": "datum.k === 'black'"}], "mark": {"type": "rule", "color": "#222222", "strokeWidth": 1.2}, "encoding": {"x": {"field": "x", "type": "quantitative"}, "y": {"field": "y", "type": "quantitative"}, "x2": {"field": "x2"}, "y2": {"field": "y2"}}},
        {"data": {"name": "lc"}, "mark": {"type": "text", "fontSize": 7, "color": "#333333", "align": "center", "baseline": "middle"}, "encoding": {"x": {"field": "x", "type": "quantitative"}, "y": {"field": "y", "type": "quantitative"}, "text": {"field": "label"}}}
      ]
    }
  ],
  "config": {
    "font": "Liberation Sans",
    "view": {"stroke": null},
    "axis": {"grid": false, "tickSize": 3, "labelFontSize": 7, "titleFontSize": 9.5, "titleFontWeight": "normal", "labelOverlap": false, "labelFlush": false, "labelPadding": 2}
  }
}
